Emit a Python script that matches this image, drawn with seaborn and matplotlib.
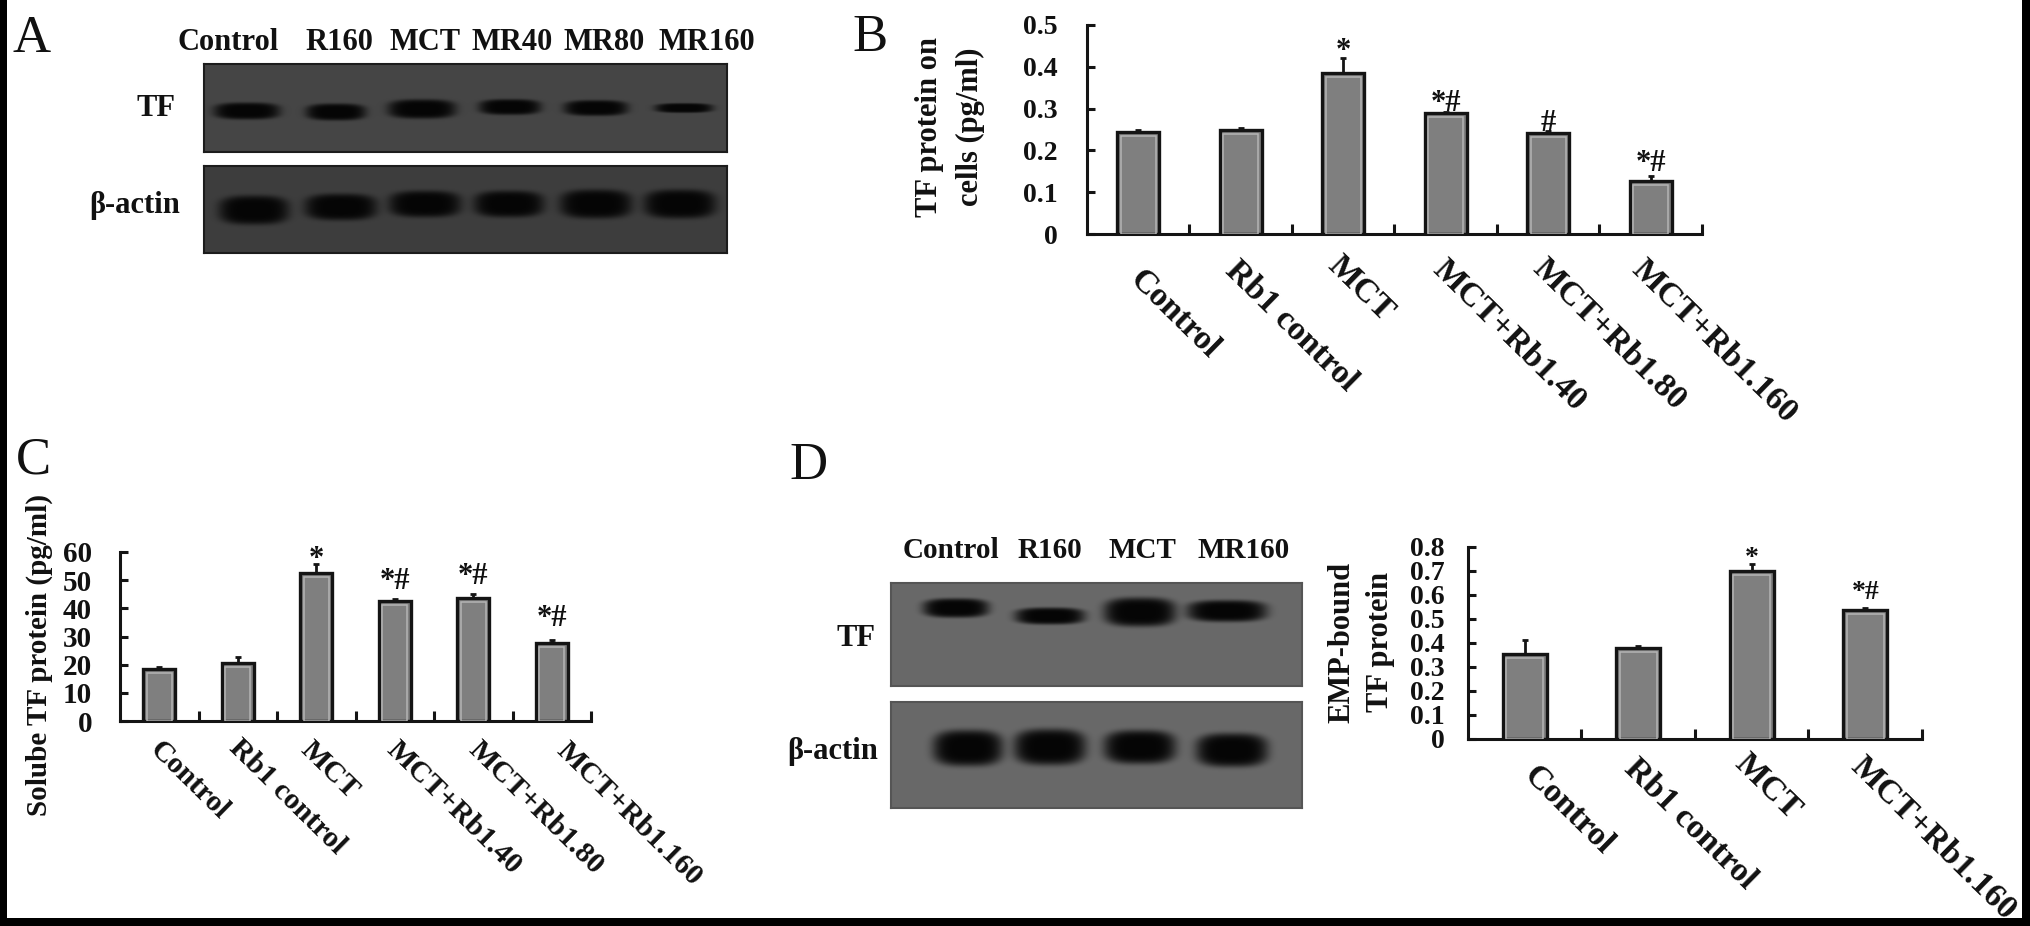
import numpy as np
import pandas as pd
import seaborn as sns
import matplotlib
matplotlib.use('Agg')
import matplotlib.pyplot as plt
from matplotlib.patches import Rectangle
from matplotlib.transforms import ScaledTranslation

W, H = 2031, 926

# bar panels
labels_6 = ['Control', 'Rb1 control', 'MCT', 'MCT+Rb1.40', 'MCT+Rb1.80', 'MCT+Rb1.160']
labels_4 = ['Control', 'Rb1 control', 'MCT', 'MCT+Rb1.160']

b_values = [0.244, 0.249, 0.385, 0.289, 0.241, 0.127]
b_errors = [0.005, 0.005, 0.035, 0.003, 0.005, 0.012]
b_marks = ['', '', '*', '*#', '#', '*#']
b_mark_y = [0, 0, 0.445, 0.320, 0.273, 0.177]
b_ticks = [0, 0.1, 0.2, 0.3, 0.4, 0.5]

c_values = [18.3, 20.7, 52.7, 42.7, 43.5, 27.8]
c_errors = [0.7, 1.9, 3.2, 0.6, 1.5, 0.8]
c_marks = ['', '', '*', '*#', '*#', '*#']
c_mark_y = [0, 0, 58.5, 50.7, 52.5, 37.6]
c_ticks = [0, 10, 20, 30, 40, 50, 60]

d_values = [0.356, 0.38, 0.70, 0.537]
d_errors = [0.055, 0.008, 0.029, 0.01]
d_marks = ['', '', '*', '*#']
d_mark_y = [0, 0, 0.77, 0.629]
d_ticks = [0, 0.1, 0.2, 0.3, 0.4, 0.5, 0.6, 0.7, 0.8]

# western blot lanes: centre x, half width, centre y, half height
a_lanes = ['Control', 'R160', 'MCT', 'MR40', 'MR80', 'MR160']
a_lane_x = [228, 339, 425, 512, 604, 707]
a_tf_x = [247, 336, 422, 510, 596, 684]
a_tf_w = [33, 30, 34, 31, 32, 29]
a_tf_y = [111, 112, 109, 107, 108, 108]
a_tf_h = [7, 7, 8, 6.5, 6.5, 4]
a_ac_x = [254, 341, 425, 509, 596, 680]
a_ac_w = [35, 36, 36, 35, 36, 36]
a_ac_y = [210, 207, 204, 204, 204, 204]
a_ac_h = [12, 11, 11, 11, 12, 12]

d_lanes = ['Control', 'R160', 'MCT', 'MR160']
d_lane_x = [951, 1050, 1142, 1244]
d_tf_x = [956, 1050, 1140, 1227]
d_tf_w = [33, 35, 36, 40]
d_tf_y = [608, 616, 612, 611]
d_tf_h = [8, 7, 12, 9]
d_ac_x = [968, 1050, 1140, 1232]
d_ac_w = [35, 36, 36, 36]
d_ac_y = [748, 747, 747, 750]
d_ac_h = [15, 15, 14, 14]

sns.set_style('white')
plt.rcParams['font.family'] = ['Liberation Serif', 'DejaVu Serif']
plt.rcParams['font.weight'] = 'bold'

fig = plt.figure(figsize=(W / 100, H / 100), dpi=100)


def px_axes(left, right, top, bottom):
    return fig.add_axes([left / W, 1 - bottom / H, (right - left) / W, (bottom - top) / H])


def put_text(x, y, s, size, weight='bold', rotation=0):
    fig.text(x / W, 1 - y / H, s, fontsize=size, fontweight=weight, rotation=rotation,
             ha='center', va='center', color='#111111')


def bar_panel(box, labels, values, errors, marks, mark_y, ticks, ylabel, ylabel_xy, pad,
              tick_size, label_size, x_size, bar_width, xshift, yshift, mark_size, linespacing=1.2):
    ax = px_axes(*box)
    ymax = ticks[-1]
    df = pd.DataFrame({'group': labels, 'value': values})
    y_per_px = ymax / (box[3] - box[2])
    x_per_px = len(labels) / (box[1] - box[0])

    sns.barplot(data=df, x='group', y='value', color='#7f7f7f', saturation=1, width=bar_width,
                edgecolor='#141414', linewidth=2.4, errorbar=None, ax=ax, zorder=2)
    # the pale rim just inside each bar outline
    rim = df.assign(value=df['value'] - 4 * y_per_px)
    sns.barplot(data=rim, x='group', y='value', fill=False, width=bar_width - 7 * x_per_px,
                edgecolor='#b4b4b4', linewidth=1.1, errorbar=None, ax=ax, zorder=3)
    ax.errorbar(range(len(labels)), values, yerr=[[0] * len(labels), errors], fmt='none',
                ecolor='#141414', elinewidth=2, capsize=2.5, capthick=2, zorder=1, clip_on=False)

    for i, (m, y) in enumerate(zip(marks, mark_y)):
        if m:
            ax.annotate(m, (i, y), xytext=(0, -8), textcoords='offset points', ha='center',
                        va='baseline', fontsize=mark_size, fontweight='bold', color='#111111',
                        annotation_clip=False)

    ax.set_xlim(-0.5, len(labels) - 0.5)
    ax.set_ylim(0, ymax)
    ax.set_xlabel('')
    ax.set_ylabel(ylabel, fontsize=label_size, fontweight='bold', linespacing=linespacing,
                  ha='center', va='center', color='#111111')
    ax.yaxis.set_label_coords(ylabel_xy[0] / W, 1 - ylabel_xy[1] / H, transform=fig.transFigure)

    ax.set_yticks(ticks)
    ax.set_yticklabels([f'{t:g}' for t in ticks], fontsize=tick_size, fontweight='bold', color='#111111')
    ax.tick_params(axis='y', direction='in', length=6, width=2.2, pad=pad, left=True, color='#141414')

    ax.set_xticks(range(len(labels)))
    ax.set_xticklabels(labels, fontsize=x_size, fontweight='bold', rotation=-44.5, ha='left', va='center',
                       rotation_mode='anchor', color='#111111')
    ax.set_xticks(np.arange(len(labels)) + 0.5, minor=True)
    ax.tick_params(axis='x', which='major', length=0)
    ax.tick_params(axis='x', which='minor', direction='in', length=7, width=2.2, bottom=True, color='#141414')
    for lab, dx, dy in zip(ax.get_xticklabels(), xshift, yshift):
        shift = ScaledTranslation(dx / 100, -dy / 100, fig.dpi_scale_trans)
        lab.set_transform(lab.get_transform() + shift)

    sns.despine(ax=ax)
    for side in ['left', 'bottom']:
        ax.spines[side].set_linewidth(2.2)
        ax.spines[side].set_color('#141414')
    ax.patch.set_alpha(0)
    return ax


def blot(box, xs, ws, ys, hs, bg, edge):
    left, right, top, bottom = box
    px = np.arange(left, right) + 0.5
    py = np.arange(top, bottom) + 0.5
    gx, gy = np.meshgrid(px, py)
    img = np.full(gx.shape, float(bg))
    for x, w, y, h in zip(xs, ws, ys, hs):
        # rounded pill shape with a soft edge
        r = (np.abs((gx - x) / w) ** 3 + np.abs((gy - y) / (h * 1.2)) ** 3) ** (1 / 3)
        band = np.exp(-r ** 6)
        img = img * (1 - band) + 0.02 * band
    ax = px_axes(left, right, top, bottom)
    sns.heatmap(img, cmap='gray', vmin=0, vmax=1, cbar=False, xticklabels=False, yticklabels=False,
                rasterized=True, ax=ax)
    for s in ax.spines.values():
        s.set_visible(True)
        s.set_color(edge)
        s.set_linewidth(1.5)


# panel A
blot((204, 727, 64, 152), a_tf_x, a_tf_w, a_tf_y, a_tf_h, 0.27, '#1c1c1c')
blot((204, 727, 166, 253), a_ac_x, a_ac_w, a_ac_y, a_ac_h, 0.24, '#1c1c1c')
for x, s in zip(a_lane_x, a_lanes):
    put_text(x, 43, s, 22)
put_text(156, 108, 'TF', 22)
put_text(135, 205, 'β-actin', 22)
put_text(32, 39, 'A', 38, weight='normal')

# panel B
bar_panel((1087, 1702, 25, 234), labels_6, b_values, b_errors, b_marks, b_mark_y, b_ticks,
          'TF protein on\ncells (pg/ml)', (950, 127), 21, 20, 22, 24.5, 0.41,
          [-4, -11, -11, -8, -11, -14], [36, 27, 22, 26, 25, 26], 22, linespacing=1.55)
put_text(870, 38, 'B', 38, weight='normal')

# panel C
bar_panel((120, 591, 552, 721), labels_6, c_values, c_errors, c_marks, c_mark_y, c_ticks,
          'Solube TF protein (pg/ml)', (39, 655), 20, 21, 21, 21.5, 0.41,
          [-5, -4, -11, -4, 0, 9], [20, 18, 20, 20, 20, 21], 22)
put_text(33, 460, 'C', 38, weight='normal')

# panel D
blot((891, 1302, 583, 686), d_tf_x, d_tf_w, d_tf_y, d_tf_h, 0.41, '#555555')
blot((891, 1302, 702, 808), d_ac_x, d_ac_w, d_ac_y, d_ac_h, 0.41, '#555555')
for x, s in zip(d_lane_x, d_lanes):
    put_text(x, 550, s, 21)
put_text(856, 638, 'TF', 22)
put_text(833, 751, 'β-actin', 22)
put_text(809, 466, 'D', 38, weight='normal')
bar_panel((1468, 1922, 547, 739), labels_4, d_values, d_errors, d_marks, d_mark_y, d_ticks,
          'EMP-bound\nTF protein', (1361, 642), 17, 20, 22, 24.5, 0.39,
          [4, -9, -12, -10], [27, 20, 15, 18], 20, linespacing=1.45)

# black scan edges of the figure
for x0, y0, w, h in [(0, 0, 7, H), (0, 918, W, 8), (2022, 0, 9, H)]:
    fig.patches.append(Rectangle((x0 / W, 1 - (y0 + h) / H), w / W, h / H, transform=fig.transFigure,
                                 facecolor='black', edgecolor='none', zorder=10))

fig.savefig('out.png', dpi=100)
